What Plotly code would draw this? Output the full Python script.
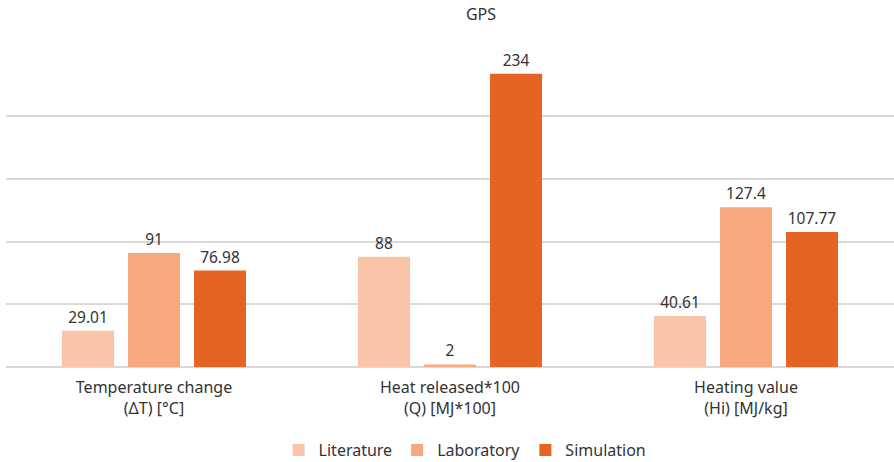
import plotly.graph_objects as go

categories = ["Temperature change<br>(ΔT) [°C]", "Heat released*100<br>(Q) [MJ*100]", "Heating value<br>(Hi) [MJ/kg]"]
literature = [29.01, 88, 40.61]
laboratory = [91, 2, 127.4]
simulation = [76.98, 234, 107.77]

series = [
    ("Literature", literature, "#F9C4A8"),
    ("Laboratory", laboratory, "#F6A97F"),
    ("Simulation", simulation, "#E36425"),
]

fig = go.Figure()
for name, vals, color in series:
    fig.add_trace(go.Bar(
        name=name, x=categories, y=vals, marker=dict(color=color, line=dict(width=0)),
        text=[f"{v:g}" for v in vals], textposition="outside", cliponaxis=False,
        textfont=dict(size=15.5, color="#333333"),
    ))

fig.update_layout(
    width=894, height=462,
    margin=dict(l=6, r=0, t=53, b=95),
    paper_bgcolor="white", plot_bgcolor="white",
    font=dict(family="Noto Sans", color="#333333"),
    title=dict(text="GPS", x=481 / 894, xanchor="center", y=1 - 14 / 462, yanchor="middle",
               font=dict(size=16, color="#333333")),
    barmode="group", bargap=0.331, bargroupgap=0.212,
    showlegend=True,
    legend=dict(orientation="h", x=0.517, xanchor="center", yref="container",
                y=12 / 462, yanchor="middle",
                font=dict(size=16, color="#333333"), itemwidth=30, traceorder="normal"),
    xaxis=dict(showline=False, ticks="", ticklabelstandoff=9,
               tickfont=dict(size=16, color="#333333")),
    yaxis=dict(range=[0, 250.6], tickvals=[50, 100, 150, 200, 250], showticklabels=False,
               gridcolor="#D9D9D9", gridwidth=1.5, zeroline=True,
               zerolinecolor="#D9D9D9", zerolinewidth=1.5),
)

fig.write_html("out.html")
